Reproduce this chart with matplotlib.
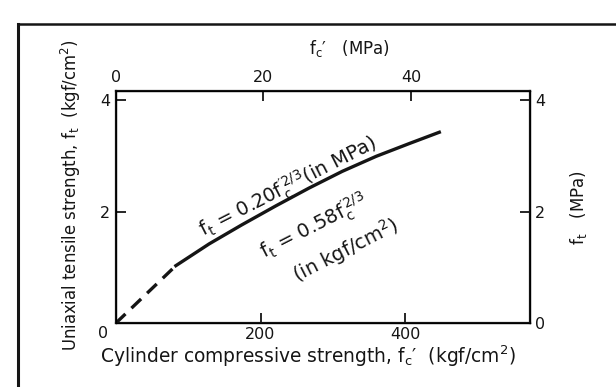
import matplotlib
matplotlib.use("Agg")
import matplotlib.pyplot as plt
from matplotlib.lines import Line2D

plt.rcParams['font.family'] = ['DejaVu Sans']
plt.rcParams['mathtext.default'] = 'regular'

# curve, x in kgf/cm2
dash_x = [0, 83]
dash_y = [0, 1.03]
solid_x = [83, 129, 174, 221, 267, 313, 360, 406, 447]
solid_y = [1.03, 1.42, 1.76, 2.10, 2.42, 2.72, 2.99, 3.22, 3.42]

bottom_ticks = [0, 200, 400]
mpa_ticks = [0, 20, 40]
y_ticks = [0, 2, 4]
ink = '#151515'

fig = plt.figure(figsize=(6.16, 3.87), dpi=100)
ax = fig.add_axes([0.188, 0.165, 0.672, 0.600])

ax.plot(dash_x, dash_y, color=ink, lw=2.4, ls=(0, (4, 2.5)))
ax.plot(solid_x, solid_y, color=ink, lw=2.4)

ax.set_xlim(0, 572)
ax.set_ylim(0, 4.16)
for s in ax.spines.values():
    s.set_linewidth(1.6)
    s.set_color(ink)

ax.set_xticks(bottom_ticks)
ax.set_xticklabels(['', '200', '400'])
ax.set_yticks(y_ticks)
ax.set_yticklabels(['', '2', '4'])
ax.tick_params(direction='in', length=7, width=1.3, labelsize=11.5, colors=ink, pad=4)
ax.tick_params(axis='x', pad=3)
ax.annotate('0', (0, 0), xytext=(-9, -7.5), textcoords='offset points',
            ha='center', va='center', fontsize=11.5, color=ink)
ax.set_xlabel("Cylinder compressive strength, f$_c$′  (kgf/cm$^2$)", fontsize=13.4,
              color=ink)
ax.xaxis.set_label_coords(0.464, -0.086)
ax.set_ylabel("Uniaxial tensile strength, f$_t$  (kgf/cm$^2$)", fontsize=11.9,
              color=ink)
ax.yaxis.set_label_coords(-0.08, 0.55)

# top axis in MPa
top = ax.twiny()
top.set_xlim(0, 572 / 10.197)
top.set_xticks(mpa_ticks)
top.tick_params(direction='in', length=7, width=1.3, labelsize=11.5, colors=ink, pad=4)
top.set_xlabel("f$_c$′   (MPa)", fontsize=12, color=ink)
top.xaxis.set_label_coords(0.565, 1.16)

right = ax.twinx()
right.set_ylim(0, 4.16)
right.set_yticks(y_ticks)
right.tick_params(direction='in', length=7, width=1.3, labelsize=11.5, colors=ink, pad=4)
right.set_ylabel("f$_t$   (MPa)", fontsize=12, color=ink, labelpad=16)

ax.text(239, 2.43, "f$_t$ = 0.20f$_c^{\\prime 2/3}$(in MPa)", rotation=27,
        ha='center', va='center', fontsize=14, color=ink, rotation_mode='anchor')
ax.text(275, 1.72, "f$_t$ = 0.58f$_c^{\\prime 2/3}$", rotation=27,
        ha='center', va='center', fontsize=14, color=ink, rotation_mode='anchor')
ax.text(317, 1.31, "(in kgf/cm$^2$)", rotation=27,
        ha='center', va='center', fontsize=14, color=ink, rotation_mode='anchor')

# scan border lines
fig.add_artist(Line2D([18 / 616, 18 / 616], [0, 1 - 24 / 387], color=ink, lw=2.2))
fig.add_artist(Line2D([18 / 616, 1], [1 - 24 / 387, 1 - 24 / 387], color=ink, lw=1.8))

fig.savefig('out.png', dpi=100)
